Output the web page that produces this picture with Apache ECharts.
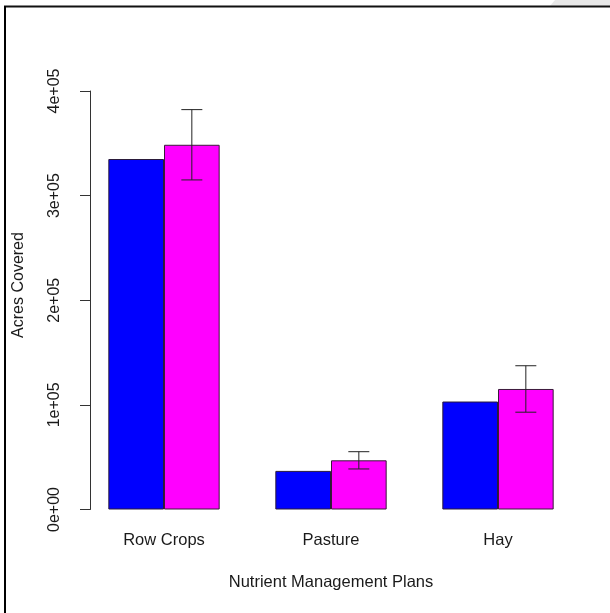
<!DOCTYPE html>
<html>
<head>
<meta charset="utf-8">
<script src="https://cdn.jsdelivr.net/npm/echarts@6/dist/echarts.min.js"></script>
<style>
html,body{margin:0;padding:0;background:#fff;}
#chart{width:610px;height:613px;}
</style>
</head>
<body>
<div id="chart"></div>
<script>
// ---- data ----
const categories = ['Row Crops', 'Pasture', 'Hay'];
const seriesBlue = [335000, 36900, 103200];
const seriesMagenta = [348600, 47000, 115200];
const magentaError = [33600, 8250, 22200];
const yTickLabels = ['0e+00', '1e+05', '2e+05', '3e+05', '4e+05'];
const xTitle = 'Nutrient Management Plans';
const yTitle = 'Acres Covered';

const FONT = '"Liberation Sans", Arial, sans-serif';
const errData = categories.map((c, i) => [i, seriesMagenta[i] - magentaError[i], seriesMagenta[i] + magentaError[i]]);

const chart = echarts.init(document.getElementById('chart'), null, {renderer: 'canvas'});
chart.setOption({
  animation: false,
  backgroundColor: '#fff',
  grid: {left: 80.5, width: 501, top: 91, height: 418.5},
  xAxis: {
    type: 'category',
    data: categories,
    axisLine: {show: false},
    axisTick: {show: false},
    axisLabel: {margin: 22, fontSize: 16.5, color: '#1a1a1a', fontFamily: FONT},
    name: xTitle,
    nameLocation: 'middle',
    nameGap: 64,
    nameTextStyle: {fontSize: 16.5, color: '#1a1a1a', fontFamily: FONT, verticalAlign: 'top'}
  },
  yAxis: {
    type: 'value',
    min: 0, max: 400000, interval: 100000,
    offset: -9.5,
    axisLine: {show: true, lineStyle: {color: '#333', width: 1}},
    axisTick: {show: true, length: 10, lineStyle: {color: '#333', width: 1}},
    splitLine: {show: false},
    axisLabel: {
      rotate: 90, margin: 27, fontSize: 16, color: '#1a1a1a', fontFamily: FONT,
      formatter: (v, idx) => yTickLabels[idx]
    }
  },
  graphic: [
    {type: 'text', x: 19, y: 285, rotation: Math.PI / 2,
     style: {text: yTitle, fontSize: 16, fill: '#1a1a1a', fontFamily: FONT, align: 'center', verticalAlign: 'middle'}},
    {type: 'polygon', shape: {points: [[555, 0], [610, 0], [610, 6], [550, 6]]}, style: {fill: '#e8e8e8'}},
    {type: 'line', shape: {x1: 4, y1: 6.5, x2: 610, y2: 6.5}, style: {stroke: '#111', lineWidth: 2}},
    {type: 'line', shape: {x1: 5, y1: 6, x2: 5, y2: 613}, style: {stroke: '#000', lineWidth: 2}}
  ],
  series: [
    {type: 'bar', data: seriesBlue, barGap: '0%', barCategoryGap: '33.33%',
     itemStyle: {color: '#0000ff', borderColor: '#2a1a3a', borderWidth: 1}},
    {type: 'bar', data: seriesMagenta,
     itemStyle: {color: '#ff00ff', borderColor: '#3a1a3a', borderWidth: 1}},
    {type: 'custom', data: errData, encode: {x: 0, y: [1, 2]}, z: 10,
     renderItem: function (params, api) {
       const lo = api.coord([api.value(0), api.value(1)]);
       const hi = api.coord([api.value(0), api.value(2)]);
       const band = api.size([1, 0])[0];
       const x = lo[0] + band / 6;
       const hw = 10.5;
       const st = {stroke: '#222', lineWidth: 1};
       return {type: 'group', children: [
         {type: 'line', shape: {x1: x, y1: lo[1], x2: x, y2: hi[1]}, style: st},
         {type: 'line', shape: {x1: x - hw, y1: hi[1], x2: x + hw, y2: hi[1]}, style: st},
         {type: 'line', shape: {x1: x - hw, y1: lo[1], x2: x + hw, y2: lo[1]}, style: st}
       ]};
     }}
  ]
});
</script>
</body>
</html>
